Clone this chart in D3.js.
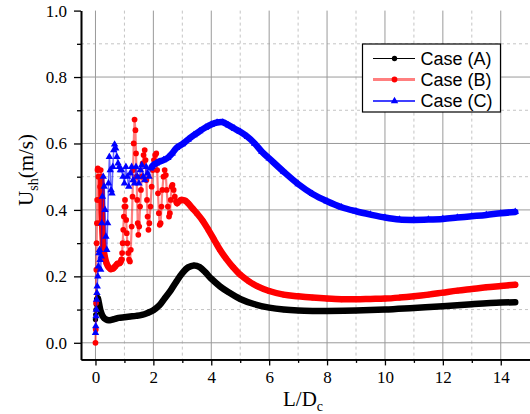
<!DOCTYPE html>
<html>
<head>
<meta charset="utf-8">
<script src="https://cdn.jsdelivr.net/npm/d3@7"></script>
<style>
  body { margin: 0; background: #fff; }
  svg { display: block; }
</style>
</head>
<body>
<svg id="chart" width="530" height="414"></svg>
<script>
// values (x = L/Dc, y = Ush in m/s)
const xA = [0, 0.01, 0.02, 0.03, 0.04, 0.06, 0.08, 0.1, 0.13, 0.16, 0.2, 0.25, 0.3, 0.37, 0.45, 0.55, 0.65, 0.8, 1.0, 1.2, 1.4, 1.6, 1.8, 2.0, 2.2, 2.4, 2.6, 2.8, 3.0, 3.2, 3.4, 3.6, 3.8, 4.0, 4.3, 4.6, 5.0, 5.5, 6.0, 6.5, 7.0, 7.5, 8.0, 9.0, 10.0, 11.0, 12.0, 13.0, 14.0, 14.5];
const yA = [0.07, 0.085, 0.1, 0.115, 0.125, 0.132, 0.135, 0.128, 0.115, 0.102, 0.09, 0.08, 0.074, 0.07, 0.068, 0.069, 0.071, 0.075, 0.077, 0.079, 0.081, 0.084, 0.09, 0.098, 0.112, 0.135, 0.158, 0.185, 0.21, 0.227, 0.233, 0.228, 0.212, 0.193, 0.17, 0.152, 0.132, 0.116, 0.106, 0.1, 0.097, 0.096, 0.096, 0.097, 0.1, 0.105, 0.11, 0.116, 0.121, 0.122];

const xB = [0, 0.01, 0.02, 0.03, 0.04, 0.05, 0.06, 0.07, 0.08, 0.1, 0.12, 0.14, 0.16, 0.18, 0.2, 0.23, 0.27, 0.32, 0.38, 0.45, 0.52, 0.6, 0.68, 0.76, 0.84,
  0.9, 0.92, 0.94, 0.96, 0.98, 1.0, 1.02, 1.04, 1.06, 1.08, 1.1, 1.13, 1.16, 1.19, 1.22, 1.25, 1.28, 1.3, 1.32, 1.35, 1.38, 1.4, 1.42, 1.44, 1.46, 1.48,
  1.51, 1.54, 1.57, 1.6, 1.63, 1.66, 1.7, 1.73, 1.76, 1.78, 1.8, 1.83, 1.86, 1.9, 1.94, 1.98, 2.02, 2.06, 2.1, 2.13, 2.16, 2.19, 2.22, 2.25, 2.28, 2.31,
  2.35, 2.39, 2.43, 2.46, 2.5, 2.54, 2.57, 2.6, 2.63, 2.66, 2.7, 2.74, 2.78, 2.82, 2.88, 2.95, 3.0, 3.1, 3.2, 3.35, 3.5, 3.7, 3.9, 4.1, 4.3, 4.5, 4.75,
  5.0, 5.3, 5.6, 6.0, 6.5, 7.0, 7.5, 8.0, 8.5, 9.0, 9.5, 10.0, 10.5, 11.0, 11.5, 12.0, 12.5, 13.0, 13.5, 14.0, 14.5];
const yB = [0.0, 0.04, 0.12, 0.22, 0.3, 0.36, 0.43, 0.52, 0.525, 0.5, 0.43, 0.36, 0.47, 0.52, 0.5, 0.36, 0.29, 0.26, 0.24, 0.228, 0.222, 0.223, 0.23, 0.238, 0.24,
  0.25, 0.27, 0.3, 0.34, 0.38, 0.41, 0.43, 0.41, 0.37, 0.33, 0.3, 0.27, 0.25, 0.245, 0.28, 0.35, 0.44, 0.52, 0.6, 0.672, 0.64, 0.57, 0.5, 0.43, 0.36, 0.325,
  0.35, 0.41, 0.46, 0.5, 0.54, 0.565, 0.58, 0.55, 0.49, 0.43, 0.38, 0.34, 0.36, 0.41, 0.47, 0.52, 0.55, 0.565, 0.57, 0.52, 0.45, 0.39, 0.355, 0.36, 0.41, 0.46,
  0.5, 0.52, 0.505, 0.46, 0.41, 0.38, 0.39, 0.43, 0.47, 0.475, 0.46, 0.44, 0.425, 0.42, 0.425, 0.43, 0.43, 0.428, 0.42, 0.405, 0.39, 0.368, 0.34, 0.31, 0.28, 0.255, 0.228,
  0.205, 0.185, 0.17, 0.156, 0.145, 0.14, 0.136, 0.133, 0.131, 0.131, 0.132, 0.133, 0.136, 0.14, 0.145, 0.151, 0.157, 0.162, 0.167, 0.171, 0.175];

const xC = [0, 0.01, 0.02, 0.03, 0.04, 0.05, 0.06, 0.08, 0.1, 0.12, 0.14, 0.16, 0.18, 0.2, 0.22, 0.24, 0.27, 0.3, 0.33, 0.36, 0.39, 0.42, 0.45, 0.48, 0.51, 0.54, 0.57, 0.6, 0.63, 0.66, 0.7, 0.74, 0.78, 0.82, 0.86, 0.9, 0.95, 1.0, 1.05, 1.1, 1.15, 1.2, 1.25, 1.3, 1.35, 1.4, 1.45, 1.5, 1.55, 1.6, 1.65, 1.7, 1.75, 1.8, 1.85, 1.9, 1.95, 2.0, 2.1, 2.2, 2.35, 2.5, 2.65, 2.8, 3.0, 3.2, 3.4, 3.6, 3.8, 4.0, 4.2, 4.4, 4.6, 4.8, 5.0, 5.25, 5.5, 5.75, 6.0, 6.5, 7.0, 7.5, 8.0, 8.5, 9.0, 9.5, 10.0, 10.5, 11.0, 11.5, 12.0, 12.5, 13.0, 13.5, 14.0, 14.5];
const yC = [0.03, 0.05, 0.08, 0.1, 0.13, 0.15, 0.17, 0.2, 0.23, 0.27, 0.28, 0.25, 0.22, 0.26, 0.36, 0.44, 0.5, 0.47, 0.4, 0.32, 0.28, 0.36, 0.48, 0.56, 0.52, 0.46, 0.45, 0.53, 0.58, 0.597, 0.585, 0.56, 0.54, 0.53, 0.52, 0.52, 0.5, 0.48, 0.53, 0.5, 0.47, 0.51, 0.53, 0.49, 0.48, 0.53, 0.5, 0.48, 0.52, 0.535, 0.5, 0.49, 0.53, 0.51, 0.5, 0.525, 0.53, 0.535, 0.54, 0.545, 0.55, 0.557, 0.57, 0.587, 0.598, 0.612, 0.625, 0.637, 0.648, 0.657, 0.663, 0.664, 0.655, 0.645, 0.635, 0.62, 0.6, 0.575, 0.555, 0.515, 0.478, 0.448, 0.426, 0.408, 0.396, 0.386, 0.377, 0.371, 0.37, 0.371, 0.373, 0.377, 0.381, 0.385, 0.39, 0.394];

const seriesNames = ['Case (A)', 'Case (B)', 'Case (C)'];
const xTicks = [0, 2, 4, 6, 8, 10, 12, 14];
const yTicks = [0.0, 0.2, 0.4, 0.6, 0.8, 1.0];

const svg = d3.select('#chart');
const x = d3.scaleLinear().domain([-0.5, 15]).range([81, 529.7]);
const y = d3.scaleLinear().domain([-0.05, 1.0]).range([359.4, 10.6]);

const xMinor = d3.range(1, 15, 2);
const yMinor = [0.1, 0.3, 0.5, 0.7, 0.9];

// grid
const grid = svg.append('g');
grid.selectAll('.vmin').data(xMinor).enter().append('line')
  .attr('x1', d => x(d)).attr('x2', d => x(d)).attr('y1', y(1)).attr('y2', y(-0.05))
  .attr('stroke', '#c4c4c4').attr('stroke-dasharray', '3,3');
grid.selectAll('.hmin').data(yMinor).enter().append('line')
  .attr('x1', x(-0.5)).attr('x2', 530).attr('y1', d => y(d)).attr('y2', d => y(d))
  .attr('stroke', '#c4c4c4').attr('stroke-dasharray', '3,3');
grid.selectAll('.vmaj').data(xTicks).enter().append('line')
  .attr('x1', d => x(d)).attr('x2', d => x(d)).attr('y1', y(1)).attr('y2', y(-0.05))
  .attr('stroke', '#9a9a9a');
grid.selectAll('.hmaj').data(yTicks.filter(d => d < 1)).enter().append('line')
  .attr('x1', x(-0.5)).attr('x2', 530).attr('y1', d => y(d)).attr('y2', d => y(d))
  .attr('stroke', '#9a9a9a');

// series
const series = [
  {name: seriesNames[0], xs: xA, ys: yA, color: '#000000', thin: 1, thinOp: 1, sym: d3.symbolCircle, size: 22, dense: [[0.05, 14.5]]},
  {name: seriesNames[1], xs: xB, ys: yB, color: '#ff0000', thin: 2.2, thinOp: 0.5, sym: d3.symbolCircle, size: 26, dense: [[0.2, 0.9], [2.8, 14.5]]},
  {name: seriesNames[2], xs: xC, ys: yC, color: '#0000ff', thin: 1.5, thinOp: 0.6, sym: d3.symbolTriangle, size: 24, dense: [[1.95, 14.5]]}
];

const line = d3.line().x(d => x(d[0])).y(d => y(d[1]));
const smooth = d3.line().x(d => x(d[0])).y(d => y(d[1])).curve(d3.curveCatmullRom.alpha(0.5));

series.forEach(function(s) {
  const pts = s.xs.map((v, i) => [v, s.ys[i]]);
  const g = svg.append('g');
  g.append('path').datum(pts).attr('d', line)
    .attr('fill', 'none').attr('stroke', s.color)
    .attr('stroke-width', s.thin).attr('stroke-opacity', s.thinOp);
  s.dense.forEach(function(r) {
    const seg = pts.filter(p => p[0] >= r[0] && p[0] <= r[1]);
    g.append('path').datum(seg).attr('d', smooth)
      .attr('fill', 'none').attr('stroke', s.color)
      .attr('stroke-width', 6.5).attr('stroke-linecap', 'round').attr('stroke-linejoin', 'round');
  });
  g.selectAll('path.m').data(pts).enter().append('path')
    .attr('class', 'm')
    .attr('transform', d => `translate(${x(d[0])},${y(d[1])})`)
    .attr('d', d3.symbol().type(s.sym).size(s.size))
    .attr('fill', s.color);
});

// axes
const tickFont = '"Liberation Serif", "Times New Roman", serif';
const axes = [];
axes.push(svg.append('g').attr('transform', `translate(0,${y(-0.05)})`)
  .call(d3.axisBottom(x).tickValues(xTicks).tickFormat(d3.format('d')).tickSize(6).tickPadding(6).tickSizeOuter(0)));
axes.push(svg.append('g').attr('transform', `translate(0,${y(-0.05)})`)
  .call(d3.axisBottom(x).tickValues(xMinor).tickFormat('').tickSize(3.5).tickSizeOuter(0)));
axes.push(svg.append('g').attr('transform', `translate(${x(-0.5)},0)`)
  .call(d3.axisLeft(y).tickValues(yTicks).tickFormat(d3.format('.1f')).tickSize(7).tickPadding(7).tickSizeOuter(0)));
axes.push(svg.append('g').attr('transform', `translate(${x(-0.5)},0)`)
  .call(d3.axisLeft(y).tickValues(yMinor).tickFormat('').tickSize(4).tickSizeOuter(0)));
axes.forEach(a => a.attr('font-family', tickFont).attr('font-size', 17));

svg.selectAll('.domain').attr('stroke', '#000').attr('stroke-width', 1.6);
svg.selectAll('.tick line').attr('stroke', '#000').attr('stroke-width', 1.3);
svg.selectAll('.tick text').style('font-family', tickFont).style('font-size', '17px').attr('fill', '#000');

// axis titles
const xt = svg.append('text').attr('x', 303).attr('y', 406).attr('text-anchor', 'middle')
  .attr('font-family', tickFont).attr('font-size', 21);
xt.append('tspan').text('L/D');
xt.append('tspan').attr('font-size', 14).attr('dy', 5).text('c');

const yt = svg.append('text').attr('transform', 'translate(33,170) rotate(-90)')
  .attr('text-anchor', 'middle').attr('font-family', tickFont).attr('font-size', 21);
yt.append('tspan').text('U');
yt.append('tspan').attr('font-size', 14).attr('dy', 5).text('sh');
yt.append('tspan').attr('dy', -5).text('(m/s)');

// legend
const lg = svg.append('g');
lg.append('rect').attr('x', 362.5).attr('y', 44).attr('width', 138).attr('height', 68)
  .attr('fill', '#fff').attr('stroke', '#000').attr('stroke-width', 1.2);
const legendRows = [58.5, 79.5, 101];
const legendLine = [{w: 1, op: 1}, {w: 3, op: 0.5}, {w: 1.5, op: 1}];
series.forEach(function(s, i) {
  const ly = legendRows[i];
  lg.append('line').attr('x1', 373).attr('x2', 415).attr('y1', ly).attr('y2', ly)
    .attr('stroke', s.color).attr('stroke-width', legendLine[i].w).attr('stroke-opacity', legendLine[i].op);
  lg.append('path').attr('transform', `translate(394.5,${ly})`)
    .attr('d', d3.symbol().type(s.sym).size(s.size)).attr('fill', s.color);
  lg.append('text').attr('x', 420.5).attr('y', ly).attr('dy', '0.36em')
    .attr('font-family', '"Liberation Sans", Arial, sans-serif').attr('font-size', 18)
    .text(s.name);
});
</script>
</body>
</html>
